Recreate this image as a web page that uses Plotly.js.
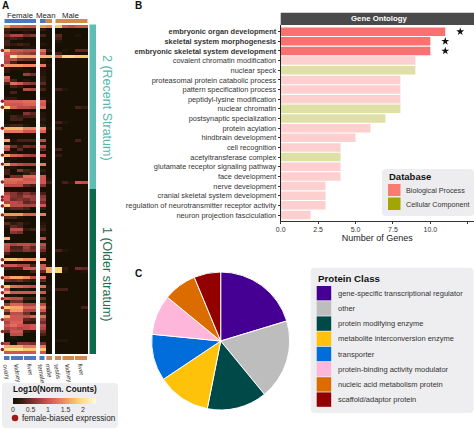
<!DOCTYPE html>
<html><head><meta charset="utf-8">
<script src="https://cdn.plot.ly/plotly-3.0.1.min.js"></script>
<style>html,body{margin:0;padding:0;background:#fff}#c{width:474px;height:429px}</style>
</head><body><div id="c"></div>
<script>
const sampleColumns=['ovary','kidney','kidney','liver','liver','female','male','testis','kidney','kidney','liver','liver'];
const expressionRows=[
[1.5,1.1,1.1,1.0,1.0,1.5,1.4,1.8,1.0,0.9,1.0,1.0],
[0.3,0.2,0.2,0.2,0.2,0.2,0,0,0,0,0,0],
[0.2,0,0,0.1,0,0,0,0,0,0,0,0],
[0.5,0.8,0.8,0.5,0.6,0.3,0,0.4,0,0,0.1,0],
[0.2,0.3,0.2,0,0,0,0,0.3,0,0,0,0],
[0.3,0,0,0,0,0,0,0.1,0,0,0,0],
[0.3,0.2,0.3,0.2,0,0.1,0,0,0,0,0,0],
[0.1,0,0,0.1,0.1,0,0,0,0,0,0,0],
[1.6,1.0,1.0,0.9,0.9,1.2,0.2,0,0.1,0,0.4,0.4],
[1.0,0.9,0.8,0.7,0.6,0.9,0,0.3,0,0,0,0],
[0.9,2.1,1.6,1.6,1.6,1.7,1.7,1.2,1.9,1.9,1.8,1.8],
[0.9,0.9,0.6,0.5,0.5,0.2,0,0,0,0,0,0],
[0.8,0.3,0,0,0,0.1,0,0,0,0,0,0],
[1.5,1.5,1.5,1.4,1.4,1.3,0.1,0,0,0,0,0],
[0.2,0.1,0.1,0,0,0.1,0,0,0,0,0,0],
[0.2,0,0,0.1,0,0.1,0,0,0,0,0,0],
[0,0,0,0.7,0.5,0.1,0,0,0,0,0,0],
[1.1,0,0,0,0,0.2,0,0,0,0,0,0],
[0.9,0.3,0,0.1,0,0.2,0,0,0,0,0,0],
[0.3,1.2,1.0,0.7,0.6,0.4,0,0,0,0,0,0],
[0,0.3,0.2,0,0,0.1,0,0,0,0,0,0],
[0,0,0,0.9,0.8,0.3,0,0.3,0.1,0,0,0],
[0,0.3,0,0,0,0,0,0,0,0,0,0],
[0,0,0,0,0,0,0,0,0,0,0,0],
[0.2,0.2,0,0,0,0.1,0,0,0,0,0,0],
[1.1,1.1,1.1,1.2,1.2,1.1,0.1,0,0,0,0,0],
[1.0,1.0,1.0,1.1,1.1,1.0,0,0,0,0,0,0],
[1.9,1.1,0.9,0.9,0.8,1.2,0,0,0,0,0.3,0.2],
[0.1,0,0,0,0,0,0,0,0,0,0,0],
[0,0,0,0.6,0.4,0.1,0,0,0,0,0,0],
[0,0.3,0.2,0.3,0.3,0.1,0,0,0,0,0,0],
[0,0.3,0.3,0,0,0.2,0,0,0,0,0,0],
[0,0,0,0,0,0.1,0,0.3,0.1,0,0,0],
[0.2,0.3,0.3,0.1,0,0.2,0,0,0,0,0,0],
[1.7,1.7,1.7,1.4,1.4,1.4,0.1,0.2,0,0,0,0],
[1.3,1.3,1.3,1.0,1.0,1.1,0,0,0,0,0,0],
[0,0,0,0,0,0,0,0,0,0,0,0],
[0.1,0,0,0,0,0,0,0,0,0,0,0],
[1.6,0.1,0.3,0.3,0.3,0.9,0,0,0,0,0.3,0],
[0,0,0,0,0,0.1,0,0,0,0,0,0],
[1.2,0.5,0.2,0.5,0.4,0.9,0,0,0,0,0,0],
[0.9,0,0.4,0,0,0.4,0,0.3,0,0,0,0],
[0,0.1,0,0,0,0,0,0,0,0,0,0],
[1.6,1.1,1.0,0.8,0.7,1.0,0,0.2,0,0,0,0],
[0,0.1,0,0,0,0.1,0,0,0,0,0,0],
[0.2,0,0,0,0,0,0,0,0,0,0,0],
[1.7,1.0,0.9,0.8,0.8,1.3,0,0,0,0,0,0],
[0.1,0.1,0,0,0,0,0,0,0,0,0,0],
[0.3,0,0.6,0.3,0.2,0.2,0,0,0,0,0,0],
[0.3,0,0,0.2,0.4,0.1,0,0,0,0,0,0],
[0,0.5,0.5,1.2,1.2,1.0,0,0,0,0,0,0],
[1.2,1.2,1.2,1.0,1.0,1.0,0.1,0,0,0,0,0],
[1.1,1.1,1.0,1.1,1.1,1.0,0.3,0,0.3,0.1,1.0,0.9],
[0.9,0.9,0.9,0.4,0.3,0.6,0,0,0,0,0,0],
[0,0,0,0,0,0,0,0,0,0,0,0],
[0.1,0,0,0,0,0,0,0,0,0,0,0],
[0.8,0.6,0.4,0.6,0.4,0.3,0,0,0,0,0,0],
[1.0,0.6,0.5,0.8,0.7,0.6,0,0,0,0,0,0],
[1.0,0.5,0.6,0.5,0.7,0.7,0,0,0,0,0,0],
[0.8,0.9,0.8,0.4,0.5,0.5,0,0,0,0,0,0],
[1.8,0.9,0.9,0.8,0.8,1.0,0,0,0,0,0,0],
[0.2,0.4,0.4,0.3,0,0.2,0,0,0,0,0,0],
[0,0,0,0,0,0,0,0,0,0,0,0],
[1.5,1.5,1.5,1.1,1.1,1.3,0,0,0,0,0,0],
[0.3,0.3,0.1,0,0,0,0,0,0,0,0,0],
[0,0,0,0,0,0,0,0,0,0,0,0],
[0.4,0.2,0.3,0.1,0,0.1,0,0,0,0,0,0],
[0.1,0.4,0.3,0,0,0.2,0,0,0,0,0,0],
[0,0.9,0.9,0.2,0.3,0.3,0,0,0,0,0,0],
[0,0.6,0.5,0,0,0.1,0,0,0,0,0,0],
[0,0,0,0,0,0,0,0,0,0,0,0],
[1.7,0,0,0,0,0.9,0,0,0,0,0,0],
[0,0,0,0,0,0,0,0,0,0,0,0],
[1.0,0.8,0.9,0.9,0.8,0.9,0,0,0,0,0,0],
[0.9,0.3,0.3,0.7,0.4,0.7,0,0,0,0,0,0],
[0.8,0.4,0.4,0.6,0.5,0.5,0,0.3,0.1,0,0,0],
[0.3,0,0,0,0,0.1,0,0,0,0,0,0],
[0,0,0,0,0,0,0,0,0,0,0,0],
[1.8,1.8,1.6,1.4,1.4,1.5,0,0,0,0,0,0],
[0,0,0,0,0,0,0,0,0,0,0,0],
[1.0,1.0,0.8,0.8,0.3,1.0,0.1,0,0,0,0,0],
[0.3,0.3,0.3,1.0,1.0,1.0,1.6,1.9,0.2,0,0.5,0.4],
[0,0,0,0,0.3,0.4,1.6,1.9,0.1,0,0,0.1],
[0,0,0,0,0,0,0,0,0,0,0,0],
[1.3,1.6,1.6,1.4,0.9,1.2,0,0,0,0,0,0],
[0.5,0.4,0.5,0.3,0.2,0.4,0,0,0,0,0,0],
[0,0,0,0,0,0,0,0,0,0,0,0],
[1.8,1.2,1.1,1.0,0.9,1.2,0.1,0,0,0,0,0],
[0.9,0,0.1,0.1,0,0.2,0.1,0.3,0.3,0,0,0],
[1.6,1.0,1.0,1.0,1.0,1.0,0,0,0,0,0,0],
[0,0.1,0,0,0,0,0,0,0,0,0,0],
[1.0,0.9,0.9,0.3,0.3,0.5,0,0,0,0,0,0],
[0.1,0.5,0.5,0.1,0,0.2,0,0,0,0,0,0],
[0.7,1.1,1.1,0.8,0.8,0.9,0,0,0,0,0,0],
[1.8,1.6,1.6,1.1,1.1,1.4,0.1,0,0,0,0,0.3],
[0.8,1.5,1.5,0.8,0.8,1.0,0,0,0,0,0,0],
[0.3,0.9,0.9,0.5,0.1,0.4,0,0,0,0,0,0],
[1.7,1.0,1.0,0.9,1.1,1.2,0,0,0,0,0,0],
[1.0,1.0,1.0,0.4,0.3,0.7,0,0,0,0,0,0],
[0.8,1.1,1.1,0.2,0.2,0.5,0,0,0,0,0,0],
[1.0,1.2,1.0,0.9,1.0,0.9,0,0,0,0,0,0],
[0.8,0.9,0.8,0.9,1.0,0.8,0,0,0,0,0,0],
[0.5,1.0,1.0,0.2,0.1,0.5,0,0,0,0,0,0],
[0,0.9,0.9,0,0,0.3,0,0,0,0,0,0],
[0,0.1,0,0,0,0,0,0,0,0,0,0],
[0,0,0,0,0,0,0,0.1,0.1,0,0,0],
[0.8,0,0.6,0.6,0.5,0.5,0,0,0,0,0,0],
[1.6,1.6,1.6,1.3,1.3,1.3,0,0,0,0,0,0],
[2.0,2.0,2.0,1.8,1.8,1.8,0,0,0,0,0,0],
[1.0,1.0,1.0,1.0,1.0,1.0,0,0,0,0,0,0]
];
const femaleBiasedRows=[8,13,25,27,34,43,46,52,57,58,60,63,78,80,84,87,89,91,94,98,102,106,108];
const heatColors=[[0,'#171003'],[0.08,'#2e1a0e'],[0.2,'#6f2c28'],[0.42,'#cf5553'],[0.6,'#ee8a5f'],[0.8,'#fdd777'],[1,'#fffbe2']];
const colorbarValues=[0,0.2,0.4,0.6,0.8,1,1.2,1.4,1.6,1.8,2,2.2,2.37];
const colorbarTicks=[0,0.5,1,1.5,2];

const goTerms=['embryonic organ development','skeletal system morphogenesis','embryonic skeletal system development','covalent chromatin modification','nuclear speck','proteasomal protein catabolic process','pattern specification process','peptidyl-lysine modification','nuclear chromatin','postsynaptic specialization','protein acylation','hindbrain development','cell recognition','acetyltransferase complex','glutamate receptor signaling pathway','face development','nerve development','cranial skeletal system development','regulation of neurotransmitter receptor activity','neuron projection fasciculation'];
const geneCounts=[11,10,10,9,9,8,8,8,8,7,6,5,4,4,4,4,3,3,3,2];
const cellularComponentTerms=['nuclear speck','nuclear chromatin','postsynaptic specialization','acetyltransferase complex'];
const significantTerms=['embryonic organ development','skeletal system morphogenesis','embryonic skeletal system development'];
const starOffset=1;

const proteinClasses=['gene-specific transcriptional regulator','other','protein modifying enzyme','metabolite interconversion enzyme','transporter','protein-binding activity modulator','nucleic acid metabolism protein','scaffold/adaptor protein'];
const proteinCounts=[13,12,9,8,7,6,5,4];
const proteinColors=['#450093','#bdbdbd','#004949','#ffc20a','#006ddb','#ffb6db','#db6d00','#920000'];
const FONT='"Liberation Sans",Arial,sans-serif';

const X=p=>p/474, Y=p=>1-p/429;
const dx=(a,b)=>[X(a),X(b)], dy=(a,b)=>[Y(b),Y(a)];
const col=(i,j)=>expressionRows.map(r=>r.slice(i,j));
const heat=(i,j,xa)=>({type:'heatmap',z:col(i,j),xaxis:xa,yaxis:'y',colorscale:heatColors,zmin:0,zmax:2.37,showscale:false,hoverinfo:'skip'});
const traces=[
 heat(0,5,'x'),heat(5,7,'x2'),heat(7,12,'x3'),
 {type:'scatter',mode:'markers',x:femaleBiasedRows.map(()=>0.6),y:femaleBiasedRows,xaxis:'x4',yaxis:'y',marker:{color:'#a3181c',size:3.4},cliponaxis:false,hoverinfo:'skip'},
 {type:'bar',orientation:'h',x:geneCounts,y:goTerms,xaxis:'x5',yaxis:'y5',width:0.88,
  marker:{color:goTerms.map(t=>significantTerms.includes(t)?'#fb7070':cellularComponentTerms.includes(t)?'#dfe0a6':'#fdd0cf'),line:{width:0}},hoverinfo:'skip'},
 {type:'scatter',mode:'markers',x:significantTerms.map(t=>geneCounts[goTerms.indexOf(t)]+starOffset),y:significantTerms,xaxis:'x5',yaxis:'y5',marker:{symbol:'star',color:'#111',size:6},hoverinfo:'skip'},
 {type:'heatmap',z:[colorbarValues],x:colorbarValues,y:[0],xaxis:'x6',yaxis:'y6',colorscale:heatColors,zmin:0,zmax:2.37,showscale:false,zsmooth:'best',hoverinfo:'skip'},
 {type:'scatter',mode:'markers',x:[0.5],y:[0.5],xaxis:'x7',yaxis:'y7',marker:{color:'#a3181c',size:6.5},hoverinfo:'skip'},
 {type:'pie',labels:proteinClasses,values:proteinCounts,sort:false,direction:'clockwise',rotation:0,textinfo:'none',
  marker:{colors:proteinColors,line:{color:'#fff',width:1}},domain:{x:dx(151.7,289.7),y:dy(272,410)},hoverinfo:'skip',showlegend:false}
];
const hidden=(d,r,a)=>({domain:d,range:r,anchor:a,visible:false,fixedrange:true});
const layout={width:474,height:429,margin:{l:0,r:0,t:0,b:0},paper_bgcolor:'#fff',plot_bgcolor:'rgba(0,0,0,0)',showlegend:false,
 font:{family:FONT,color:'#222'},
 xaxis:hidden(dx(4,36),[-0.5,4.5],'y'),
 xaxis2:hidden(dx(40,52),[-0.5,1.5],'y'),
 xaxis3:hidden(dx(55,88),[-0.5,4.5],'y'),
 xaxis4:hidden(dx(0,4),[0,1],'y'),
 yaxis:hidden(dy(25,354),[109.5,-0.5],'x'),
 xaxis5:{domain:dx(280.7,474),range:[0,12.92],anchor:'y5',showgrid:false,zeroline:false,showline:true,linecolor:'#333',linewidth:1,ticks:'outside',ticklen:2,tickcolor:'#333',
  tickvals:[0,2.5,5,7.5,10,12.5],ticktext:['0.0','2.5','5.0','7.5','10.0','12.5'],tickfont:{size:7,color:'#333'},fixedrange:true,
  title:{text:'Number of Genes',font:{size:9,color:'#222'},standoff:2}},
 yaxis5:{domain:dy(25,221),type:'category',categoryorder:'array',categoryarray:goTerms,range:[19.62,-0.69],anchor:'x5',showgrid:false,zeroline:false,showline:true,linecolor:'#222',linewidth:1,ticks:'outside',ticklen:2,tickcolor:'#333',
  tickmode:'array',tickvals:goTerms,ticktext:goTerms.map(t=>significantTerms.includes(t)?'<b>'+t+'</b>':t),tickfont:{size:7.4,color:'#333'},fixedrange:true},
 xaxis6:{domain:dx(13,96),range:[0,2.37],anchor:'y6',showgrid:false,zeroline:false,showline:false,ticks:'',tickvals:colorbarTicks,ticktext:colorbarTicks.map(String),tickfont:{size:7,color:'#333'},fixedrange:true},
 yaxis6:{domain:dy(398,404),anchor:'x6',visible:false,fixedrange:true},
 xaxis7:hidden(dx(10,20),[0,1],'y7'),
 yaxis7:hidden(dy(413,423),[0,1],'x7'),
 shapes:[],annotations:[]};

function rect(x0,y0,x1,y1,c){layout.shapes.push({type:'rect',xref:'paper',yref:'paper',x0:X(x0),x1:X(x1),y0:Y(y0),y1:Y(y1),fillcolor:c,line:{width:0},layer:'below'});}
function rrect(x0,y0,x1,y1,r,c){const P=(a,b)=>X(a)+','+Y(b);
 layout.shapes.push({type:'path',xref:'paper',yref:'paper',layer:'below',fillcolor:c,line:{width:0},
 path:'M'+P(x0+r,y0)+' L'+P(x1-r,y0)+' Q'+P(x1,y0)+' '+P(x1,y0+r)+' L'+P(x1,y1-r)+' Q'+P(x1,y1)+' '+P(x1-r,y1)+' L'+P(x0+r,y1)+' Q'+P(x0,y1)+' '+P(x0,y1-r)+' L'+P(x0,y0+r)+' Q'+P(x0,y0)+' '+P(x0+r,y0)+' Z'});}
function txt(t,x,y,o={}){layout.annotations.push(Object.assign({text:t,xref:'paper',yref:'paper',x:X(x),y:Y(y),showarrow:false,xanchor:o.a||'left',yanchor:'middle',borderpad:0,
 font:{size:o.s||7,color:o.c||'#222',family:FONT}},o.r!==undefined?{textangle:o.r}:{}));}

const BLUE='#4f78bb',ORANGE='#cf8a4d';
rect(4.5,19,36,23,BLUE);rect(40,19,45.8,23,BLUE);rect(45.8,19,52,23,ORANGE);rect(55.5,19,87.5,23,ORANGE);
rect(89.5,24.5,96,189,'#5fbdb3');rect(89.5,189,96,354,'#0b6b4a');
[[4,9.5,BLUE],[11,23,BLUE],[24,36,BLUE],[39.5,44.5,BLUE],[46.3,52,ORANGE],[55,61,ORANGE],[62.5,74,ORANGE],[75,87,ORANGE]].forEach(b=>rect(b[0],356,b[1],360,b[2]));
txt('<b>A</b>',1,6,{s:10,c:'#111'});txt('<b>B</b>',134,5,{s:10,c:'#111'});txt('<b>C</b>',134,273,{s:10,c:'#111'});
txt('Female',20,15,{a:'center',s:7.8});txt('Mean',45.5,15,{a:'center',s:7.8});txt('Male',70.5,15,{a:'center',s:7.8});
txt('2 (Recent Stratum)',107,108,{a:'center',s:12.5,c:'#55b8ad',r:90});
txt('1 (Older stratum)',107,274,{a:'center',s:12.5,c:'#1f6f50',r:90});
sampleColumns.filter((c,i)=>![2,4,9,11].includes(i)).forEach((c,i)=>{
 const xs=[6.5,17,30,42,49,58,68,81];
 layout.annotations.push({text:c,xref:'paper',yref:'paper',x:X(xs[i]),y:Y(362),yanchor:'top',xanchor:'center',showarrow:false,textangle:80,font:{size:6.3,color:'#333',family:FONT},borderpad:0});
});
rrect(2,383,118,428,4,'#eeeef0');
txt('<b>Log10(Norm. Counts)</b>',12,389.5,{s:8.2,c:'#111'});
txt('female-biased expression',20.5,418,{s:8.2,c:'#222'});
rect(280.7,12.7,474,25,'#4a4a4a');
txt('<b>Gene Ontology</b>',379,19,{a:'center',s:7.8,c:'#fff'});
rrect(382,169,474,216,4,'#ededef');
txt('<b>Database</b>',388,176,{s:9.5,c:'#111'});
rect(388,184,400.5,196,'#fa7b72');rect(388,197.5,400.5,210,'#a3a500');
txt('Biological Process',405,190,{s:7.2,c:'#333'});txt('Cellular Component',405,204,{s:7.2,c:'#333'});
rrect(310.7,267.7,473.5,413,4,'#eeeef0');
txt('<b>Protein Class</b>',316.7,278,{s:9.7,c:'#111'});
proteinClasses.forEach((p,i)=>{const y=286+15.2*i;rect(316.7,y,331.2,y+14.4,proteinColors[i]);txt(p,336.7,y+7.2,{s:7.5,c:'#333'});});

Plotly.newPlot('c',traces,layout,{displayModeBar:false,staticPlot:true});
</script></body></html>
